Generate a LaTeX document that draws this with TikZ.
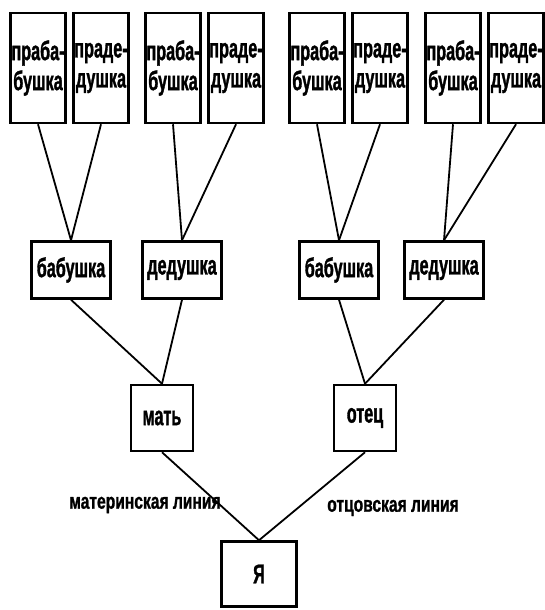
\documentclass[tikz,border=0pt]{standalone}
\usepackage{fontspec}
\setmainfont{Liberation Sans}[FakeStretch=0.6, FakeBold=1.2]
\newfontfamily\linefont{Liberation Sans}[FakeStretch=0.71, FakeBold=1]
\begin{document}
\begin{tikzpicture}[x=1pt, y=-1pt, node distance=63pt]
    \tikzset{
        elder/.style = {rectangle, draw, line width=2.5pt, minimum width=55pt, minimum height=110pt, align=center, inner sep=0pt, font=\fontsize{27}{30}\selectfont\bfseries},
        grand/.style = {rectangle, draw, line width=2.5pt, minimum width=79pt, minimum height=57pt, inner sep=0pt, font=\fontsize{27}{30}\selectfont\bfseries},
        parent/.style = {grand, minimum width=62pt, minimum height=66pt},
        lineage/.style = {font=\linefont\fontsize{22}{26}\selectfont\bfseries},
        link/.style = {line width=1.8pt}
    }
    \useasboundingbox (0,0) rectangle (544,610);

    % me and parents
    \node (me) [parent, minimum width=75pt, minimum height=65pt] at (259,574) {Я};
    \node (mother) [parent] at (162,418) {мать};
    \node (father) [parent, right of=mother, node distance=203pt] {отец};
    \node (motherLine) [lineage] at (145,505) {материнская линия};
    \node (fatherLine) [lineage] at (393,508) {отцовская линия};

    % grandparents
    \node (grandma1) [grand] at (71,270) {бабушка};
    \node (grandpa1) [grand, right of=grandma1, node distance=111pt] {дедушка};
    \node (grandma2) [grand] at (339,270) {бабушка};
    \node (grandpa2) [grand, right of=grandma2, node distance=105pt] {дедушка};

    % great-grandparents
    \node (ggma1) [elder] at (38,68) {праба-\\бушка};
    \node (ggpa1) [elder, right of=ggma1] {праде-\\душка};
    \node (ggma2) [elder] at (173,68) {праба-\\бушка};
    \node (ggpa2) [elder, right of=ggma2] {праде-\\душка};
    \node (ggma3) [elder] at (317,68) {праба-\\бушка};
    \node (ggpa3) [elder, right of=ggma3] {праде-\\душка};
    \node (ggma4) [elder] at (453,68) {праба-\\бушка};
    \node (ggpa4) [elder, right of=ggma4] {праде-\\душка};

    \draw [link] (ggma1.south) -- (grandma1.north);
    \draw [link] (ggpa1.south) -- (grandma1.north);
    \draw [link] (ggma2.south) -- (grandpa1.north);
    \draw [link] (ggpa2.south) -- (grandpa1.north);
    \draw [link] (ggma3.south) -- (grandma2.north);
    \draw [link] (ggpa3.south) -- (grandma2.north);
    \draw [link] (ggma4.south) -- (grandpa2.north);
    \draw [link] (ggpa4.south) -- (grandpa2.north);

    \draw [link] (grandma1.south) -- (mother.north);
    \draw [link] (grandpa1.south) -- (mother.north);
    \draw [link] (grandma2.south) -- (father.north);
    \draw [link] (grandpa2.south) -- (father.north);

    \draw [link] (mother.south) -- (me.north);
    \draw [link] (father.south) -- (me.north);

\end{tikzpicture}
\end{document}
